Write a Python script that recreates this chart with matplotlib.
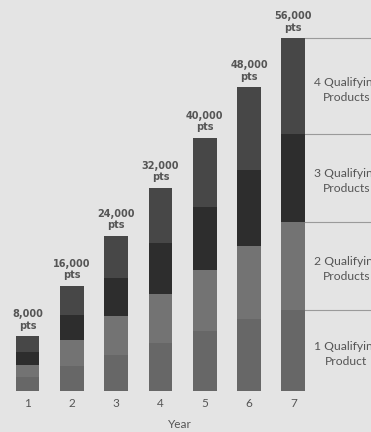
import matplotlib
matplotlib.use("Agg")
import matplotlib.pyplot as plt
import numpy as np

# data (segment values, bottom to top)
years = ["1", "2", "3", "4", "5", "6", "7"]
totals = [8000, 16000, 24000, 32000, 40000, 48000, 56000]
seg_1_product = [2220, 3920, 5760, 7620, 9480, 11500, 12910]
seg_2_products = [1860, 4130, 6140, 7840, 9800, 11590, 13930]
seg_3_products = [2110, 4020, 6030, 8030, 10000, 12070, 14020]
seg_4_products = [2490, 4670, 6720, 8800, 10960, 13070, 15130]
seg_names = ["1 Qualifying\nProduct", "2 Qualifying\nProducts",
             "3 Qualifying\nProducts", "4 Qualifying\nProducts"]
seg_colors = ["#676767", "#737373", "#2d2d2d", "#474747"]

BG = "#e4e4e4"
W, H = 371, 432

fig = plt.figure(figsize=(W / 100, H / 100), dpi=100, facecolor=BG)
# axes placed in pixel terms: baseline at y=391, bar 1 center at x=27.5, step 44.3
step = 44.3
left_px = 27.5 - 0.5 * step
ax = fig.add_axes([left_px / W, (H - 391) / H, (W - left_px) / W, 391 / H])
ax.set_facecolor(BG)

x = np.arange(len(years))
segs = [seg_1_product, seg_2_products, seg_3_products, seg_4_products]
bottom = np.zeros(len(years))
width = 0.535
for vals, col in zip(segs, seg_colors):
    ax.bar(x, vals, width=width, bottom=bottom, color=col, linewidth=0)
    bottom += np.array(vals)
stack_top = bottom.copy()

x_right = 6.5 + (W - (left_px + 7 * step)) / step
ax.set_xlim(-0.5, x_right)
ax.set_ylim(0, 56000 * 391 / 352.7)

for xi, t, top in zip(x, totals, stack_top):
    ax.text(xi, top + 850, f"{t:,}\npts", ha="center", va="bottom",
            fontsize=7, fontweight="bold", color="#555555",
            linespacing=1.2)

# right-side category guide
edges = np.concatenate([[0], np.cumsum([s[-1] for s in segs])])
for e in edges[1:]:
    ax.plot([6 + width / 2, x_right], [e, e], color="#9a9a9a", lw=0.8,
            clip_on=False)
label_x = 6 + width / 2 + (346 - 305) / step
for lo, hi, name in zip(edges[:-1], edges[1:], seg_names):
    ax.text(label_x, lo + 0.46 * (hi - lo), name, ha="center", va="center",
            fontsize=8.7, color="#555555", family="Lato", linespacing=1.45)

for s in ax.spines.values():
    s.set_visible(False)
ax.set_yticks([])
ax.set_xticks(x, years)
ax.tick_params(axis="x", length=0, pad=5, labelsize=8.5, labelcolor="#555555")
for lab in ax.get_xticklabels():
    lab.set_family("Lato")

fig.text(180 / W, 1 - 424 / H, "Year", ha="center", va="center",
         fontsize=8.5, color="#555555", family="Lato")

fig.savefig("out.png", dpi=100, facecolor=BG)
